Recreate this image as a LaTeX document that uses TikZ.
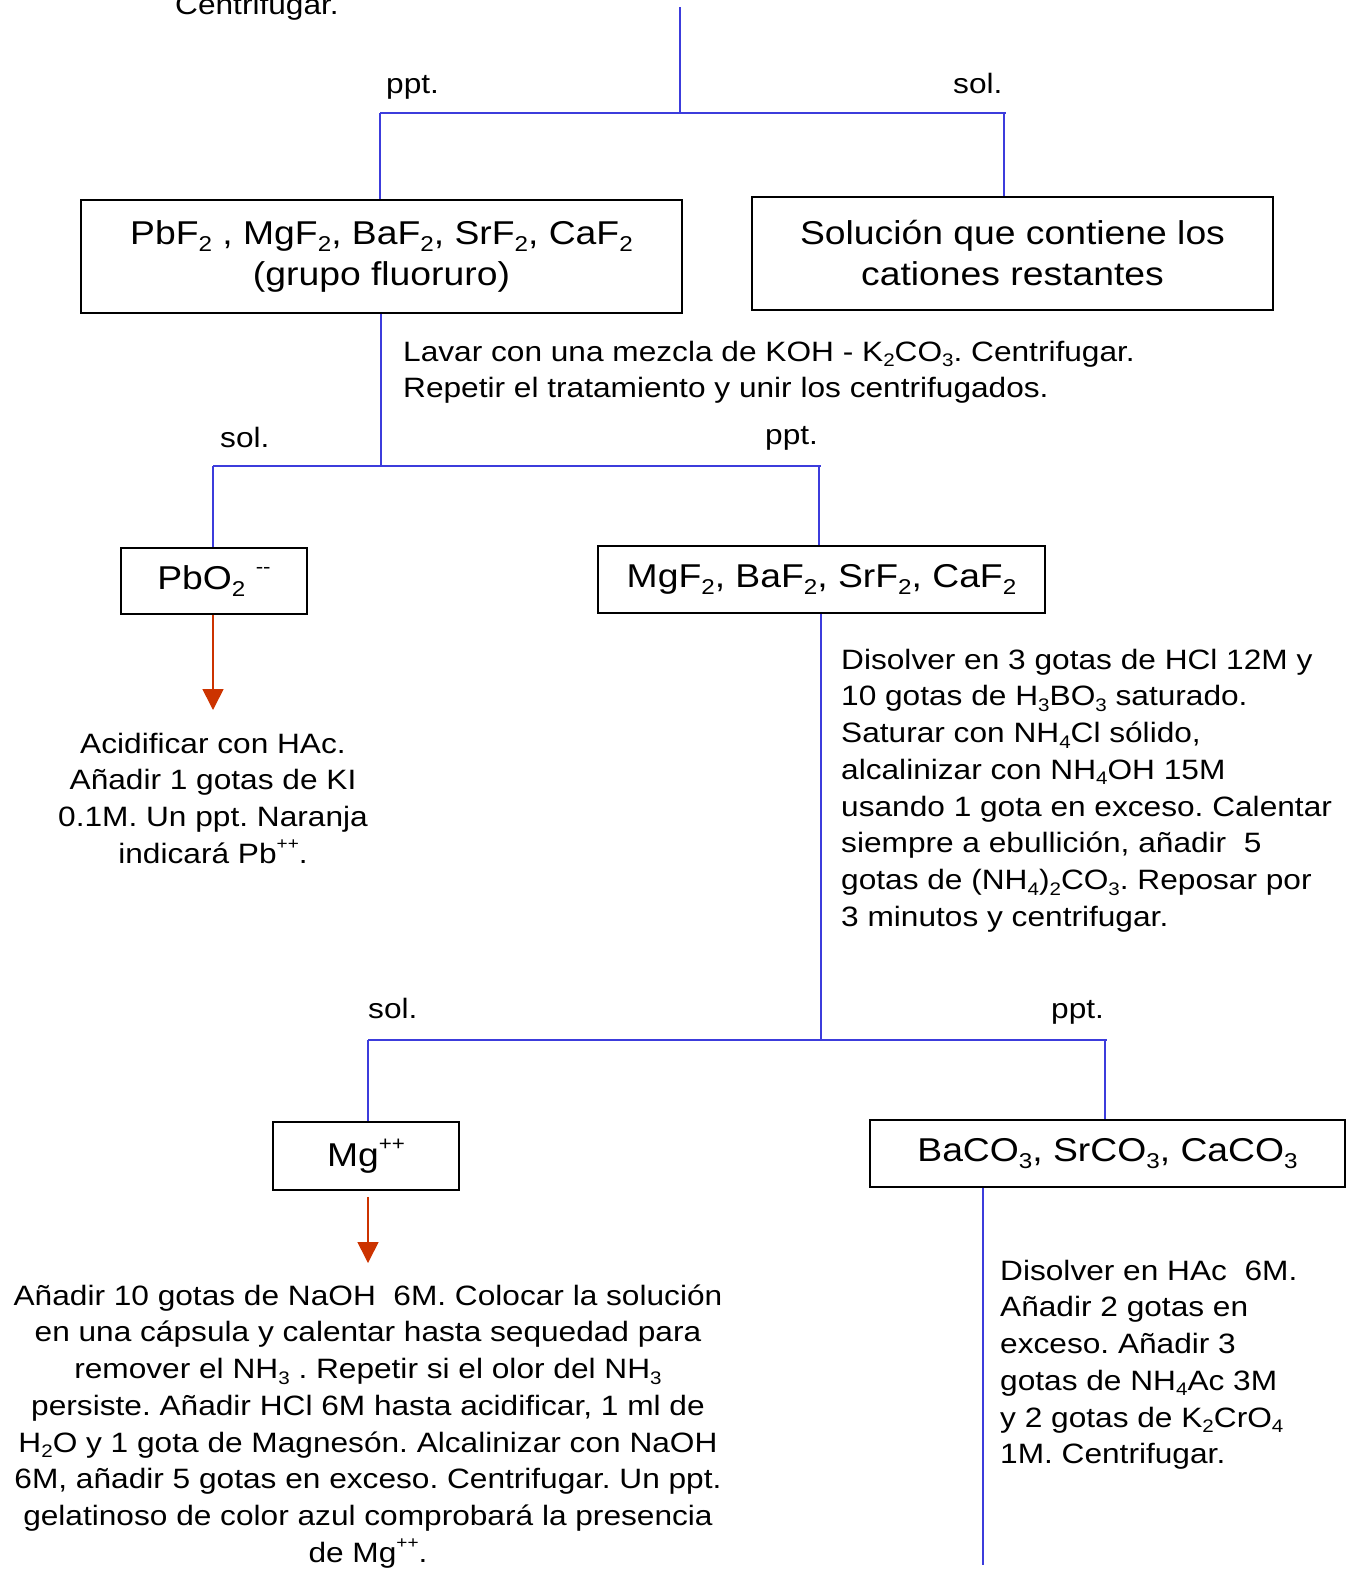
\documentclass[tikz,border=0pt]{standalone}
\usepackage{fontspec}
\usepackage{graphicx}
\setmainfont{Liberation Sans}[FakeStretch=1.13]
\usetikzlibrary{arrows.meta}

\definecolor{flow}{RGB}{60,60,220}
\definecolor{arrowred}{RGB}{204,51,0}

\makeatletter
% chemical subscripts and ionic charges
\newcommand\lo[1]{\raisebox{-0.2em}{\fontsize{\fpeval{0.65*\f@size}}{1}\selectfont #1}}
\newcommand\hi[1]{\raisebox{0.5em}{\fontsize{\fpeval{0.6*\f@size}}{1}\selectfont #1}}
\makeatother
% fixed height for the first line of a text block
\newcommand\fs{\rule{0pt}{22pt}}

\tikzset{
  flowline/.style={draw=flow, line width=1.6pt},
  box/.style={draw=black, line width=1.6pt, inner sep=0pt, align=center,
    font=\fontsize{33}{41}\selectfont},
  body/.style={inner sep=0pt, font=\fontsize{28}{36.7}\selectfont},
  tag/.style={inner sep=0pt, anchor=base west, font=\fontsize{28}{36.7}\selectfont},
  redarrow/.style={draw=arrowred, line width=1.6pt,
    -{Triangle[width=21pt,length=21pt]}}
}

\begin{document}
\frenchspacing
\begin{tikzpicture}[x=1pt,y=-1pt]
\useasboundingbox (0,0) rectangle (1351,1572);

% leftover of the previous step
\node[tag] (prev) at (175,14) {Centrifugar.};

% boxes
\node[box, minimum width=601pt, minimum height=113pt] (fluor) at (381.5,256.5)
  {PbF\lo{2} , MgF\lo{2}, BaF\lo{2}, SrF\lo{2}, CaF\lo{2}\\(grupo fluoruro)};
\node[box, minimum width=521pt, minimum height=113pt] (rest) at (1012.5,253.5)
  {Solución que contiene los\\cationes restantes};
\node[box, minimum width=186pt, minimum height=66pt] (pbo) at (214,581)
  {PbO\lo{2}\ \hi{{-}{-}}};
\node[box, minimum width=447pt, minimum height=67pt] (mgf) at (821.5,579.5)
  {MgF\lo{2}, BaF\lo{2}, SrF\lo{2}, CaF\lo{2}};
\node[box, minimum width=186pt, minimum height=68pt] (mgion) at (366,1156)
  {Mg\hi{++}};
\node[box, minimum width=475pt, minimum height=67pt] (baco) at (1107.5,1153.5)
  {BaCO\lo{3}, SrCO\lo{3}, CaCO\lo{3}};

% first split
\coordinate (top) at (680,7);
\coordinate (s1) at (680,113);
\coordinate (s1l) at (380,113);
\coordinate (s1r) at (1006,113);
\coordinate (s1rd) at (1004,113);
\draw[flowline] (top) -- (s1);
\draw[flowline] (s1l) -- (s1r);
\draw[flowline] (s1l) -- (s1l |- fluor.north);
\draw[flowline] (s1rd) -- (s1rd |- rest.north);
\node[tag] (t1) at (386,93) {ppt.};
\node[tag] (t2) at (953,93) {sol.};

% second split
\coordinate (s2) at (381,466);
\coordinate (s2l) at (213,466);
\coordinate (s2r) at (821,466);
\coordinate (s2rd) at (819,466);
\draw[flowline] (s2 |- fluor.south) -- (s2);
\draw[flowline] (s2l) -- (s2r);
\draw[flowline] (s2l) -- (s2l |- pbo.north);
\draw[flowline] (s2rd) -- (s2rd |- mgf.north);
\node[tag] (t3) at (220,447) {sol.};
\node[tag] (t4) at (765,444) {ppt.};

\node[body, anchor=north west, align=left] (wash) at (403,361-22)
  {\fs Lavar con una mezcla de KOH - K\lo{2}CO\lo{3}. Centrifugar.\\
   Repetir el tratamiento y unir los centrifugados.};

% lead branch
\coordinate (pbtip) at (213,710);
\draw[redarrow] (pbtip |- pbo.south) -- (pbtip);
\node[body, anchor=north, align=center] (pbtest) at (213,753-22)
  {\fs Acidificar con HAc.\\Añadir 1 gotas de KI\\0.1M. Un ppt. Naranja\\indicará Pb\hi{++}.};

% third split
\node[body, anchor=north west, align=left] (dissolve) at (841,669-22)
  {\fs Disolver en 3 gotas de HCl 12M y\\
   10 gotas de H\lo{3}BO\lo{3} saturado.\\
   Saturar con NH\lo{4}Cl sólido,\\
   alcalinizar con NH\lo{4}OH 15M\\
   usando 1 gota en exceso. Calentar\\
   siempre a ebullición, añadir\ \ 5\\
   gotas de (NH\lo{4})\lo{2}CO\lo{3}. Reposar por\\
   3 minutos y centrifugar.};

\coordinate (s3) at (821,1040);
\coordinate (s3l) at (368,1040);
\coordinate (s3r) at (1107,1040);
\coordinate (s3rd) at (1105,1040);
\draw[flowline] (s3 |- mgf.south) -- (s3);
\draw[flowline] (s3l) -- (s3r);
\draw[flowline] (s3l) -- (s3l |- mgion.north);
\draw[flowline] (s3rd) -- (s3rd |- baco.north);
\node[tag] (t5) at (368,1018) {sol.};
\node[tag] (t6) at (1051,1018) {ppt.};

% magnesium branch
\coordinate (mgtip) at (368,1263);
\draw[redarrow, shorten <=6pt] (mgtip |- mgion.south) -- (mgtip);
\node[body, anchor=north, align=center] (mgtest) at (368,1305-22)
  {\fs Añadir 10 gotas de NaOH\ \ 6M. Colocar la solución\\
   en una cápsula y calentar hasta sequedad para\\
   remover el NH\lo{3} . Repetir si el olor del NH\lo{3}\\
   persiste. Añadir HCl 6M hasta acidificar, 1 ml de\\
   H\lo{2}O y 1 gota de Magnesón. Alcalinizar con NaOH\\
   6M, añadir 5 gotas en exceso. Centrifugar. Un ppt.\\
   gelatinoso de color azul comprobará la presencia\\
   de Mg\hi{++}.};

% alkaline earth carbonates branch
\coordinate (bline) at (983,1565);
\draw[flowline] (bline |- baco.south) -- (bline);
\node[body, anchor=north west, align=left] (catest) at (1000,1280-22)
  {\fs Disolver en HAc\ \ 6M.\\
   Añadir 2 gotas en\\
   exceso. Añadir 3\\
   gotas de NH\lo{4}Ac 3M\\
   y 2 gotas de K\lo{2}CrO\lo{4}\\
   1M. Centrifugar.};
\end{tikzpicture}
\end{document}
